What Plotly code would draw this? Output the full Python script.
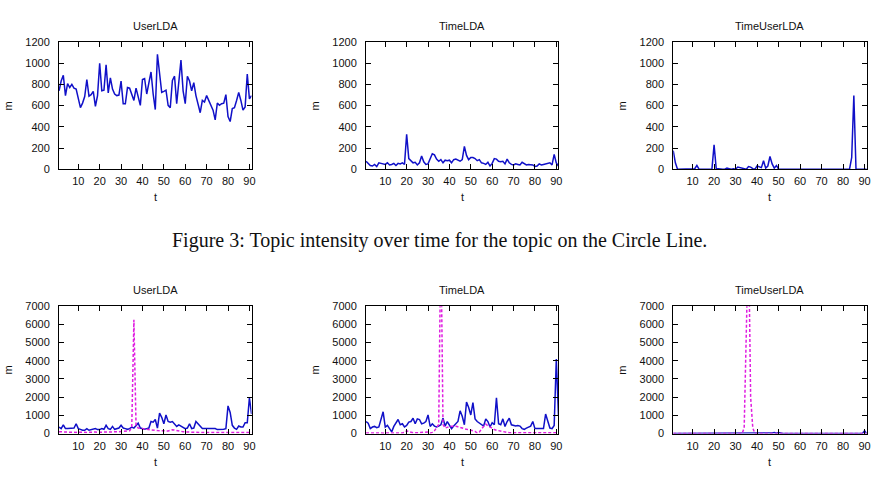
import plotly.graph_objects as go

# ---------------- data ----------------
t = list(range(1, 92))

top_user = [740, 832, 887, 695, 808, 771, 801, 765, 756, 680,
            581, 624, 686, 847, 689, 704, 735, 594, 695, 1000,
            740, 746, 985, 720, 862, 756, 710, 695, 700, 832,
            618, 618, 771, 765, 695, 649, 765, 680, 603, 847,
            856, 710, 832, 918, 710, 563, 1085, 899, 725, 735,
            746, 603, 581, 838, 878, 618, 862, 1030, 740, 618,
            878, 832, 740, 817, 695, 618, 533, 649, 634, 695,
            649, 618, 557, 466, 624, 603, 618, 624, 704, 496,
            450, 572, 581, 649, 725, 649, 557, 588, 899, 664, 695]

top_time = [75, 50, 35, 30, 45, 25, 60, 55, 50, 45,
            60, 40, 45, 55, 35, 55, 50, 60, 45, 330,
            100, 80, 60, 65, 40, 60, 125, 70, 45, 50,
            100, 145, 135, 95, 75, 90, 60, 85, 80, 85,
            60, 90, 95, 85, 75, 90, 215, 130, 90, 110,
            110, 100, 80, 90, 60, 55, 45, 65, 30, 55,
            100, 95, 75, 70, 75, 50, 95, 60, 45, 40,
            50, 45, 40, 65, 50, 40, 45, 40, 40, 25,
            30, 50, 40, 45, 50, 55, 60, 40, 140, 60, 30]

top_timeuser = [175, 60, 0, 0, 0, 0, 0, 0, 0, 0,
                5, 35, 0, 0, 0, 0, 0, 0, 0, 230,
                5, 5, 0, 0, 0, 10, 5, 0, 5, 0,
                20, 15, 15, 5, 0, 25, 20, 5, 0, 30,
                25, 15, 80, 10, 30, 120, 50, 10, 35, 0,
                0, 0, 0, 0, 0, 0, 0, 5, 0, 0,
                0, 0, 0, 0, 0, 0, 0, 0, 0, 0,
                0, 0, 0, 0, 0, 0, 0, 0, 0, 0,
                0, 0, 0, 110, 695, 0, 0, 0, 0, 5, 0]

bot_user_a = [360, 270, 480, 270, 270, 270, 270, 300, 535, 270,
              230, 180, 180, 270, 180, 215, 230, 270, 215, 215,
              270, 230, 450, 270, 230, 390, 230, 270, 300, 450,
              300, 270, 230, 270, 357, 300, 450, 570, 300, 270,
              230, 270, 300, 660, 625, 770, 300, 1125, 890, 535,
              1020, 660, 625, 660, 535, 390, 480, 410, 300, 270,
              300, 535, 270, 300, 660, 535, 357, 270, 270, 270,
              270, 230, 270, 270, 215, 215, 215, 230, 270, 1520,
              1160, 450, 300, 230, 410, 357, 357, 590, 590, 1965, 1070]

bot_user_b = [100, 90, 80, 80, 70, 70, 80, 60, 60, 70,
              60, 50, 60, 60, 70, 60, 60, 80, 70, 70,
              60, 80, 90, 80, 70, 70, 80, 90, 100, 110,
              120, 100, 120, 150, 350, 6250, 450, 300, 280, 260,
              250, 240, 230, 210, 190, 170, 160, 150, 140, 130,
              120, 140, 170, 210, 190, 160, 130, 110, 100, 90,
              80, 70, 70, 60, 60, 60, 50, 50, 50, 50,
              50, 50, 50, 50, 50, 50, 50, 50, 50, 50,
              50, 50, 50, 50, 50, 50, 50, 50, 50, 50, 50]

bot_time_a = [660, 570, 270, 357, 390, 320, 357, 715, 1195, 357,
              445, 270, 90, 390, 625, 770, 480, 535, 357, 445,
              625, 660, 840, 535, 805, 770, 535, 570, 660, 1020,
              390, 535, 410, 357, 410, 480, 840, 410, 660, 480,
              270, 410, 535, 660, 1250, 945, 480, 1730, 1430, 1020,
              1700, 805, 660, 590, 480, 410, 805, 660, 357, 590,
              480, 1965, 535, 480, 805, 390, 660, 840, 480, 445,
              410, 445, 410, 270, 230, 300, 357, 410, 660, 270,
              270, 270, 270, 270, 1070, 625, 300, 270, 445, 4100, 1000]

bot_time_b = [30, 25, 20, 20, 25, 20, 30, 25, 20, 20,
              25, 20, 20, 25, 30, 25, 20, 30, 60, 150,
              100, 50, 40, 40, 40, 40, 40, 40, 60, 80,
              20, 60, 150, 300, 500, 11000, 500, 300, 350, 380,
              400, 420, 400, 370, 330, 280, 250, 230, 210, 190,
              170, 120, 30, 80, 250, 400, 520, 430, 350, 280,
              220, 180, 150, 120, 90, 70, 60, 40, 40, 40,
              40, 40, 40, 40, 40, 40, 40, 40, 40, 40,
              40, 40, 40, 40, 40, 40, 40, 40, 40, 40, 40]

bot_timeuser_a = [5] * 46 + [30, 60, 20, 50, 10] + [5] * 38 + [150, 0]

bot_timeuser_b = [0] * 33 + [300, 5500, 11000, 2000, 300] + [0] * 53

titles = ["UserLDA", "TimeLDA", "TimeUserLDA"]
x_ticks = [10, 20, 30, 40, 50, 60, 70, 80, 90]
caption = "Figure 3: Topic intensity over time for the topic on the Circle Line."

# ---------------- layout helpers ----------------
W, H = 880, 488
cols = [(59.3, 252.7), (367.7, 561.0), (676.3, 870.7)]
rows = [(37.0, 167.3), (307.7, 438.3)]
BLUE = "#1010c8"
MAG = "#e01ee0"

fig = go.Figure()

panels = [
    (0, 0, [(top_user, None)], [0, 1200], 200),
    (0, 1, [(top_time, None)], [0, 1200], 200),
    (0, 2, [(top_timeuser, None)], [0, 1200], 200),
    (1, 0, [(bot_user_a, None), (bot_user_b, "m")], [0, 7000], 1000),
    (1, 1, [(bot_time_a, None), (bot_time_b, "m")], [0, 7000], 1000),
    (1, 2, [(bot_timeuser_a, None), (bot_timeuser_b, "m")], [0, 7000], 1000),
]

annotations = []
font_sans = "Liberation Sans, Arial, sans-serif"
for i, (r, c, series, yr, dt) in enumerate(panels):
    idx = i + 1
    xa = "x" if idx == 1 else f"x{idx}"
    ya = "y" if idx == 1 else f"y{idx}"
    for vals, kind in series:
        if kind == "m":
            line = dict(color=MAG, width=1.5, dash="3px,2px")
        else:
            line = dict(color=BLUE, width=1.5)
        fig.add_trace(go.Scatter(x=t, y=vals, mode="lines", line=line,
                                 xaxis=xa, yaxis=ya, showlegend=False,
                                 cliponaxis=True))
    x0, x1 = cols[c]
    y0, y1 = rows[r]
    axcommon = dict(showline=True, linecolor="black", linewidth=1, mirror="ticks",
                    ticks="inside", ticklen=5, tickcolor="black", tickwidth=1,
                    showgrid=False, zeroline=False,
                    tickfont=dict(family=font_sans, size=11, color="#111"))
    fig.layout[("xaxis" if idx == 1 else f"xaxis{idx}")] = dict(
        domain=[x0 / W, x1 / W], range=[1, 91], tickvals=x_ticks,
        anchor=ya, ticklabelstandoff=2, **axcommon)
    fig.layout[("yaxis" if idx == 1 else f"yaxis{idx}")] = dict(
        domain=[1 - y1 / H, 1 - y0 / H], range=yr, dtick=dt, tick0=0,
        anchor=xa, ticklabelstandoff=6, **axcommon)
    cx = (x0 + x1) / 2
    cy = (y0 + y1) / 2
    annotations.append(dict(text=titles[c], x=cx / W, y=1 - (y0 - 16.5) / H,
                            xref="paper", yref="paper", showarrow=False,
                            xanchor="center", yanchor="middle",
                            font=dict(family=font_sans, size=11, color="#111")))
    annotations.append(dict(text="t", x=cx / W, y=1 - (y1 + 29) / H,
                            xref="paper", yref="paper", showarrow=False,
                            xanchor="center", yanchor="middle",
                            font=dict(family=font_sans, size=11, color="#111")))
    annotations.append(dict(text="m", x=(x0 - 51.5) / W, y=1 - cy / H,
                            xref="paper", yref="paper", showarrow=False,
                            xanchor="center", yanchor="middle", textangle=-90,
                            font=dict(family=font_sans, size=11, color="#111")))

annotations.append(dict(text=caption, x=442 / W, y=1 - 240 / H,
                        xref="paper", yref="paper", showarrow=False,
                        xanchor="center", yanchor="middle",
                        font=dict(family="Liberation Serif, Times New Roman, serif",
                                  size=20, color="#111")))

fig.update_layout(width=W, height=H, margin=dict(l=0, r=0, t=0, b=0),
                  paper_bgcolor="white", plot_bgcolor="white",
                  annotations=annotations, showlegend=False)

fig.write_html("out.html")
